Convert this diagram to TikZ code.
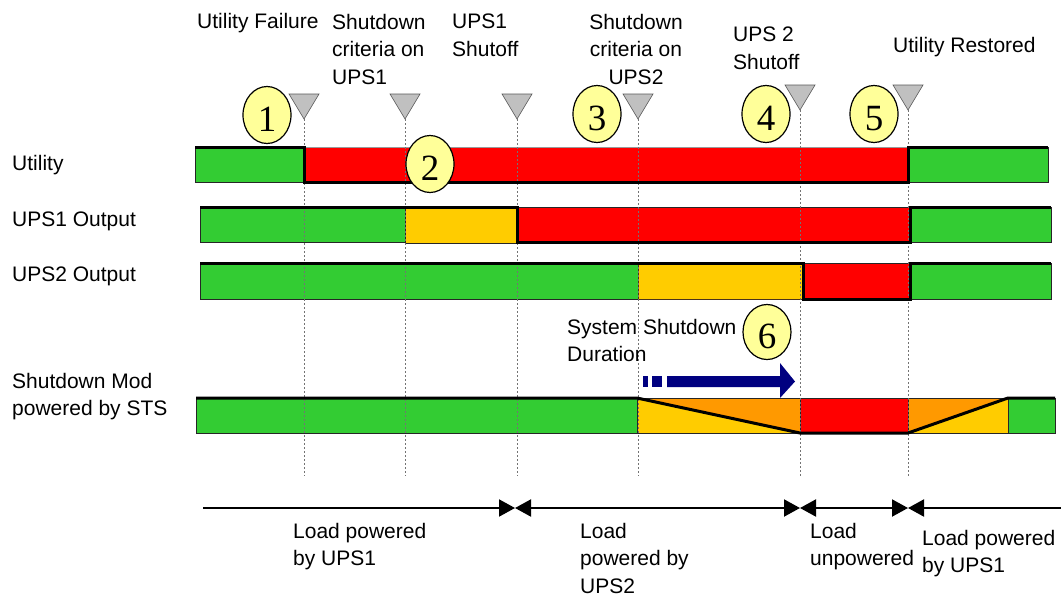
\documentclass[tikz,border=0pt]{standalone}
\usepackage{fontspec}
\setmainfont{Liberation Sans}
\newfontfamily\numfont{Liberation Serif}
\usetikzlibrary{shapes.geometric,arrows.meta}
\definecolor{sgreen}{HTML}{33CC33}
\definecolor{sred}{HTML}{FF0000}
\definecolor{syellow}{HTML}{FFCC00}
\definecolor{sorange}{HTML}{FF9900}
\definecolor{circfill}{HTML}{FFFF99}
\definecolor{markgray}{HTML}{C0C0C0}
\definecolor{navyblue}{HTML}{000080}
\begin{document}
\begin{tikzpicture}[x=1pt,y=-1pt,
  lbl/.style={font=\fontsize{21}{27.5}\selectfont, align=left, anchor=north west, inner sep=0pt},
  numcirc/.style={ellipse, draw=black, line width=1.2pt, fill=circfill, minimum width=48pt, minimum height=57pt, inner sep=0pt, text height=33pt, text depth=0pt, font=\numfont\fontsize{37}{37}\selectfont},
  seg/.style={draw=black!85, line width=0.8pt},
  sig/.style={draw=black, line width=3pt},
  marker/.style={fill=markgray, draw=black!65, line width=0.6pt},
  guide/.style={draw=black!55, line width=0.6pt, dash pattern=on 2pt off 2pt},
  tipr/.style={-{Triangle[length=16pt,width=17pt]}},
  tipl/.style={{Triangle[length=16pt,width=17pt]}-},
  tipb/.style={{Triangle[length=16pt,width=17pt]}-{Triangle[length=16pt,width=17pt]}},
  spanline/.style={draw=black, line width=2pt}]
\useasboundingbox (0,0) rectangle (1061,600);

% ---- event markers (x positions)
\coordinate (m1) at (304,119);
\coordinate (m2) at (405,119);
\coordinate (m3) at (517,119);
\coordinate (m4) at (638,119);
\coordinate (m5) at (800,110);
\coordinate (m6) at (908,110);

% ---- bars: Utility
\fill[sgreen] (195,147) rectangle (304,182);
\draw[seg] (195,147) rectangle (304,182);
\fill[sred] (304,147) rectangle (908,182);
\draw[seg, draw=black!40] (304,147) -- (908,147);
\fill[sgreen] (908,147) rectangle (1048,182);
\draw[seg] (908,147) rectangle (1048,182);

% ---- bars: UPS1 output
\fill[sgreen] (200,207) rectangle (405,242);
\draw[seg] (200,207) rectangle (405,242);
\fill[syellow] (405,208) rectangle (517,243);
\draw[seg] (405,208) rectangle (517,243);
\fill[sred] (517,207) rectangle (910,242);
\draw[seg] (517,207) rectangle (910,242);
\fill[sgreen] (910,207) rectangle (1051,242);
\draw[seg] (910,207) rectangle (1051,242);

% ---- bars: UPS2 output
\fill[sgreen] (200,263) rectangle (638,299);
\draw[seg] (200,263) rectangle (638,299);
\fill[syellow] (638,263) rectangle (803,299);
\draw[seg, draw=black!60!brown] (638,263) rectangle (803,299);
\fill[sred] (803,263) rectangle (910,299);
\draw[seg] (803,263) rectangle (910,299);
\fill[sgreen] (910,263) rectangle (1051,299);
\draw[seg] (910,263) rectangle (1051,299);

% ---- bars: Shutdown Mod
\fill[sgreen] (196,398) rectangle (637,433);
\draw[seg] (196,398) rectangle (637,433);
\fill[sorange] (637,398) rectangle (800,433);
\fill[syellow] (637,398) -- (800,433) -- (637,433) -- cycle;
\draw[seg] (637,398) rectangle (800,433);
\fill[sred] (800,398) rectangle (908,433);
\draw[seg] (800,398) rectangle (908,433);
\fill[sorange] (908,398) rectangle (1008,433);
\fill[syellow] (908,433) -- (1008,398) -- (1008,433) -- cycle;
\draw[seg] (908,398) rectangle (1008,433);
\fill[sgreen] (1008,398) rectangle (1055,433);
\draw[seg] (1008,398) rectangle (1055,433);

% ---- dashed guides
\foreach \m in {m1,m2,m3,m4,m5,m6} {
  \draw[guide] (\m) -- (\m |- 0,476);
}

% ---- signal lines
\draw[sig] (195,147) -- (304,147) -- (304,182) -- (908,182) -- (908,147) -- (1048,147);
\draw[sig] (200,207) -- (517,207) -- (517,242) -- (910,242) -- (910,207) -- (1051,207);
\draw[sig] (200,263) -- (803,263) -- (803,299) -- (910,299) -- (910,263) -- (1051,263);
\draw[sig] (196,398) -- (637,398) -- (800,433) -- (908,433) -- (1008,398) -- (1055,398);

% ---- triangles
\foreach \m in {m1,m2,m3,m4,m5,m6} {
  \draw[marker] (\m) -- ++(-15,-25) -- ++(30,0) -- cycle;
}

% ---- numbered circles
\node[numcirc] (c1) at (267,115) {1};
\node[numcirc] (c2) at (430,164) {2};
\node[numcirc] (c3) at (597,114) {3};
\node[numcirc] (c4) at (766,114) {4};
\node[numcirc] (c5) at (874,114) {5};

% ---- top labels
\node[lbl] (tl1) at (197,13) {Utility Failure};
\node[lbl] (tl2) at (332,14) {Shutdown\\criteria on\\UPS1};
\node[lbl] (tl3) at (452,14) {UPS1\\Shutoff};
\node[lbl, align=center, anchor=north] (tl4) at (636,14) {Shutdown\\criteria on\\UPS2};
\node[lbl] (tl5) at (733,27) {UPS 2\\Shutoff};
\node[lbl] (tl6) at (893,37) {Utility Restored};

% ---- row labels
\node[lbl] (r1) at (12,155) {Utility};
\node[lbl] (r2) at (12,212) {UPS1 Output};
\node[lbl] (r3) at (12,267) {UPS2 Output};
\node[lbl] (r4) at (12,373) {Shutdown Mod\\powered by STS};

% ---- system shutdown duration
\node[lbl] (sd) at (567,319) {System Shutdown\\Duration};
\node[numcirc, minimum height=55pt] (c6) at (767,332) {6};
\fill[navyblue] (643,376) rectangle (648,387);
\fill[navyblue] (652,376) rectangle (662,387);
\fill[navyblue] (667,376) -- (780,376) -- (780,363) -- (795,381.5) -- (780,398) -- (780,387) -- (667,387) -- cycle;

% ---- bottom spans
\coordinate (s0) at (203,508);
\coordinate (s1) at (515,508);
\coordinate (s2) at (800,508);
\coordinate (s3) at (908,508);
\coordinate (s4) at (1061,508);
\draw[spanline, tipr] (s0) -- (s1);
\draw[spanline, tipb] (s1) -- (s2);
\draw[spanline, tipb] (s2) -- (s3);
\draw[spanline, tipl] (s3) -- (s4);

\node[lbl] (b1) at (293,523) {Load powered\\by UPS1};
\node[lbl] (b2) at (580,523) {Load\\powered by\\UPS2};
\node[lbl] (b3) at (810,523) {Load\\unpowered};
\node[lbl] (b4) at (922,530) {Load powered\\by UPS1};
\end{tikzpicture}
\end{document}
